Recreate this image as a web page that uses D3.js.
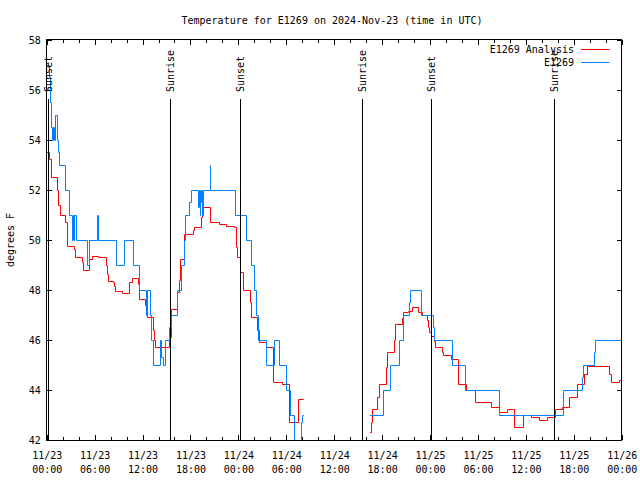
<!DOCTYPE html>
<html><head><meta charset="utf-8">
<script src="https://cdn.jsdelivr.net/npm/d3@7"></script>
<style>
body{margin:0;background:#fff}
text{font-family:"DejaVu Sans Mono","Liberation Mono",monospace;font-size:10px;fill:#000}
</style>
</head><body><svg id="c" width="640" height="480"></svg>
<script>
// ---- data (hours since 2024-11-23 00:00 UTC, temperature in F) ----
const analysisHours = [0.00,0.41,0.59,1.29,1.54,1.72,2.38,2.55,3.42,3.60,4.48,4.64,5.39,5.68,6.52,7.49,7.61,7.69,8.40,8.53,8.66,9.50,10.41,10.70,11.45,11.58,11.67,12.42,12.58,12.63,13.33,13.55,13.67,15.43,15.68,16.43,16.60,16.77,17.31,18.35,18.56,19.41,19.53,20.53,21.58,22.54,23.46,23.71,23.90,24.28,24.59,25.55,25.68,26.38,26.63,27.47,28.39,29.57,30.39,31.52,32.15,
  36.00,
  40.52,40.64,40.77,41.36,41.61,42.52,42.68,43.56,43.73,44.49,44.69,45.25,45.75,46.58,47.08,47.63,47.83,47.95,48.13,48.54,48.71,49.51,49.64,50.68,51.56,52.60,53.65,55.66,56.74,57.66,58.62,59.67,60.71,61.75,62.68,63.72,64.56,65.52,66.52,67.36,67.70,70.53,70.71,71.67,72.00];
const analysisTemps = [53.5,53.2,52.5,52.0,51.4,51.0,50.7,49.75,49.6,49.3,49.1,48.8,49.2,49.35,49.3,49.0,48.6,48.35,48.3,48.15,47.95,47.85,48.3,48.45,48.2,47.95,47.6,47.4,47.2,46.9,46.4,46.0,45.7,46.1,47.2,47.9,48.4,49.2,50.2,50.4,50.5,50.9,51.3,50.7,50.6,50.55,50.5,49.7,49.3,48.7,48.0,47.5,46.9,46.4,45.9,45.7,44.3,44.2,42.7,43.6,43.6,
  null,
  42.3,42.7,43.2,43.7,44.2,44.9,45.5,46.0,46.6,46.85,47.1,47.15,47.3,47.1,47.0,46.8,46.5,46.3,46.15,45.95,45.7,45.5,45.4,45.2,44.2,44.0,43.5,43.3,43.1,43.2,42.5,43.0,42.9,42.8,42.9,43.2,43.3,43.7,44.2,44.6,44.95,44.6,44.3,44.4,44.4];

const obsHours = [0.13,0.38,0.46,0.59,0.75,0.88,0.97,1.13,1.29,1.42,1.63,2.35,2.80,3.22,3.30,3.42,3.51,3.73,5.06,5.31,6.33,6.46,8.74,9.78,10.88,11.58,12.51,12.63,13.01,13.17,13.42,14.26,14.43,14.68,14.93,15.34,15.64,16.43,16.93,17.27,17.44,17.94,18.15,18.98,19.10,19.23,19.32,19.41,19.51,19.61,20.45,20.57,23.58,24.96,25.68,25.97,26.22,26.56,27.47,28.51,29.14,30.07,30.57,31.02,31.86,32.08,32.15,
  36.00,
  40.52,42.19,43.11,44.12,44.74,45.45,45.57,46.95,48.46,48.62,50.80,52.43,56.69,64.69,64.77,67.11,67.24,68.65,68.78,72.00];
const obsTemps = [57,56.5,55.5,54.5,54,54.5,54,55,54,53.5,53,52,51,50,51,50,51,50,49,50,51,50,49,50,49,48,47,48,47,46,45,46,45.3,45,46,46.5,47,48,49,50,51,51.5,52,51.3,52,51,51.5,52,51,52,53,52,51,50,49,48,47,46,45,46,45,44,43,41,42.7,43,43,
  null,
  43,44,45,46,47,47.5,48,47,46.5,46,45,44,43,43.5,44,44.5,45,45.5,46,46];

const sunHours  = [0.20, 15.53, 24.29, 39.57, 48.16, 63.56];
const sunLabels = ["Sunset","Sunrise","Sunset","Sunrise","Sunset","Sunrise"];
const yTickValues = [42,44,46,48,50,52,54,56,58];
const seriesNames = ["E1269 Analysis","E1269"];
const seriesColors = ["#ff0000","#0080ff"];
const titleText = "Temperature for E1269 on 2024-Nov-23 (time in UTC)";
const yLabel = "degrees F";

// ---- chart ----
const start = Date.UTC(2024,10,23);
const toDate = h => new Date(start + h*3600e3);
const L = 46.7, R = 621.7, T = 40, B = 440;
const x = d3.scaleUtc().domain([toDate(0), toDate(72)]).range([L, R]);
const y = d3.scaleLinear().domain([42, 58]).range([B, T]);
const px = v => Math.floor(v) + 0.5;   // snap to pixel centres for crisp 1px lines

const svg = d3.select("#c");
svg.append("rect").attr("width",640).attr("height",480).attr("fill","#fff");

svg.append("defs").append("clipPath").attr("id","clip")
  .append("rect").attr("x",46).attr("y",39).attr("width",577).attr("height",402);

// title
svg.append("text").attr("x",332).attr("y",24).attr("text-anchor","middle").text(titleText);
// y label
svg.append("text").attr("transform","translate(14,240) rotate(-90)")
  .attr("text-anchor","middle").text(yLabel);

// axes: minor + major ticks on all four sides (inward)
const majorT = d3.utcHour.every(6);
const minorT = d3.utcHour.every(2);
const axG = svg.append("g").attr("shape-rendering","crispEdges");
function styleAxis(g){ g.select(".domain").remove(); g.selectAll("line").attr("stroke","#000"); }
axG.append("g").attr("transform",`translate(0,${B})`)
  .call(d3.axisBottom(x).ticks(minorT).tickSize(-3).tickFormat("")).call(styleAxis);
axG.append("g").attr("transform",`translate(0,${T})`)
  .call(d3.axisTop(x).ticks(minorT).tickSize(-3).tickFormat("")).call(styleAxis);
axG.append("g").attr("transform",`translate(0,${T})`)
  .call(d3.axisTop(x).ticks(majorT).tickSize(-5).tickFormat("")).call(styleAxis);
const bx = axG.append("g").attr("transform",`translate(0,${B})`)
  .call(d3.axisBottom(x).ticks(majorT).tickSize(-5).tickPadding(0)).call(styleAxis);
bx.selectAll(".tick text").each(function(d){
  const t = d3.select(this);
  t.text(null).attr("y",null).attr("dy",null).attr("fill","#000");
  t.append("tspan").attr("x",0).attr("y",19).text(d3.utcFormat("%m/%d")(d));
  t.append("tspan").attr("x",0).attr("y",33).text(d3.utcFormat("%H:%M")(d));
});
bx.selectAll("text").style("font-family",'"DejaVu Sans Mono","Liberation Mono",monospace').style("font-size","10px");
const ly = axG.append("g").attr("transform",`translate(${L},0)`)
  .call(d3.axisLeft(y).tickValues(yTickValues).tickSize(-5).tickPadding(6)).call(styleAxis);
ly.selectAll("text").attr("fill","#000").style("font-family",'"DejaVu Sans Mono","Liberation Mono",monospace').style("font-size","10px");
axG.append("g").attr("transform",`translate(${R},0)`)
  .call(d3.axisRight(y).tickValues(yTickValues).tickSize(-5).tickFormat("")).call(styleAxis);

// series (step after, like gnuplot "steps")
function seriesData(hs, vs){ return hs.map((h,i)=>({t:toDate(h), v:vs[i]})); }
const line = d3.line().defined(d=>d.v!=null)
  .x(d=>px(x(d.t))).y(d=>px(y(d.v))).curve(d3.curveStepAfter);
const dataG = svg.append("g").attr("clip-path","url(#clip)");
[[analysisHours,analysisTemps],[obsHours,obsTemps]].forEach(([hs,vs],i)=>{
  dataG.append("path").datum(seriesData(hs,vs)).attr("d",line)
    .attr("fill","none").attr("stroke",seriesColors[i]).attr("stroke-width",1)
    .attr("stroke-linecap","square");
});

// sunrise / sunset lines
const sunG = svg.append("g");
sunHours.forEach((h,i)=>{
  const sx = px(x(toDate(h)));
  sunG.append("line").attr("x1",sx).attr("x2",sx).attr("y1",99).attr("y2",B)
    .attr("stroke","#000").attr("stroke-width",1);
  sunG.append("text").attr("transform",`translate(${sx},92) rotate(-90)`)
    .attr("dominant-baseline","central").attr("text-anchor","start").text(sunLabels[i]);
});

// border
svg.append("rect").attr("x",46.5).attr("y",39.5).attr("width",575).attr("height",400.5)
  .attr("fill","none").attr("stroke","#000").attr("shape-rendering","crispEdges");

// legend
seriesNames.forEach((n,i)=>{
  const ly0 = 49.5 + i*13;
  svg.append("text").attr("x",574).attr("y",ly0+3.5).attr("text-anchor","end").text(n);
  svg.append("line").attr("x1",581).attr("x2",609.5).attr("y1",ly0).attr("y2",ly0)
    .attr("stroke",seriesColors[i]).attr("stroke-width",1);
});
</script>
</body></html>
